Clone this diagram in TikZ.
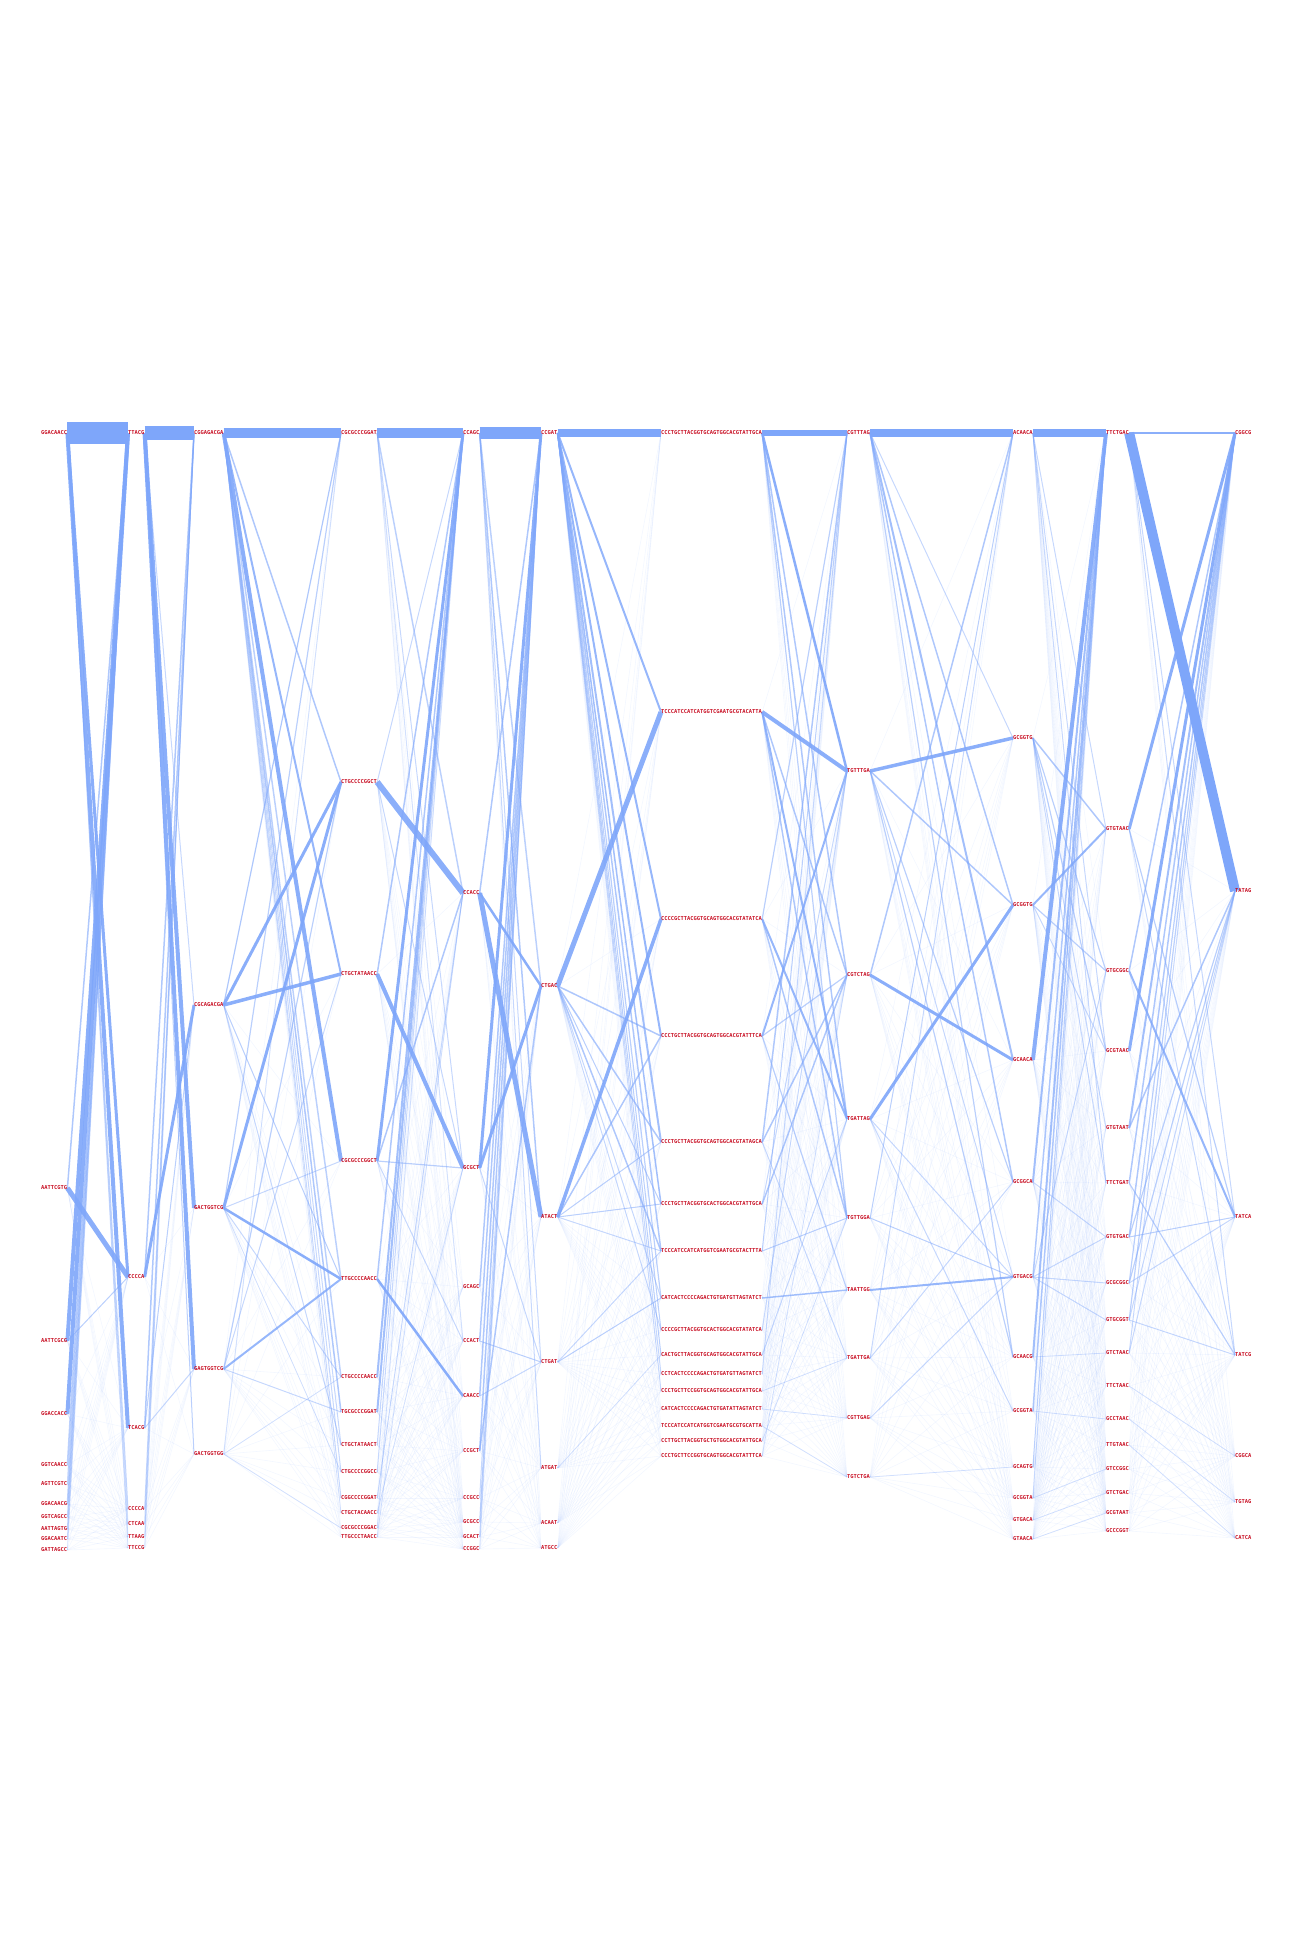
\documentclass[tikz,border=0pt]{standalone}
\usepackage{fontspec}
\usepackage{tikz}
\newfontfamily\seqfont{DejaVu Sans Mono}
\pgfdeclarelayer{background}
\pgfsetlayers{background,main}
\definecolor{seqred}{RGB}{200,16,36}
\definecolor{flowblue}{RGB}{126,166,250}
\begin{document}
\begin{tikzpicture}[x=1pt,y=-1pt,
    seq/.style={anchor=west,inner sep=0pt,text=seqred,font=\fontsize{5.4}{5.4}\selectfont\seqfont\bfseries},
    mesh/.style={draw=flowblue,line width=0.6pt,draw opacity=0.09},
    flow/.style={draw=flowblue}]
\useasboundingbox (0,0) rectangle (1296,1944);
% columns of labels
\foreach \n/\y/\t in {1/433/GGACAACC,2/1188/AATTCGTG,3/1341/AATTCGCG,4/1414/GGACCACC,5/1465/GGTCAACC,6/1484/AGTTCGTC,7/1504/GGACAACG,8/1517/GGTCAGCC,9/1529/AATTAGTG,10/1539/GGACAATC,11/1550/GATTAGCC}
    \node[seq] (a\n) at (41,\y) {\t};
\foreach \n/\y/\t in {1/433/TTACG,2/1277/CCCCA,3/1428/TCACG,4/1509/CCCCA,5/1524/CTCAA,6/1537/TTAAG,7/1548/TTCCG}
    \node[seq] (b\n) at (128,\y) {\t};
\foreach \n/\y/\t in {1/433/CGGAGACGA,2/1005/CGCAGACGA,3/1208/GACTGGTCG,4/1369/GAGTGGTCG,5/1454/GACTGGTGG}
    \node[seq] (c\n) at (194,\y) {\t};
\foreach \n/\y/\t in {1/433/CGCGCCCGGAT,2/782/CTGCCCCGGCT,3/974/CTGCTATAACC,4/1161/CGCGCCCGGCT,5/1279/TTGCCCCAACC,6/1377/CTGCCCCAACC,7/1412/TGCGCCCGGAT,8/1445/CTGCTATAACT,9/1472/CTGCCCCGGCC,10/1498/CGGCCCCGGAT,11/1513/CTGCTACAACC,12/1528/CGCGCCCGGAC,13/1537/TTGCCCTAACC}
    \node[seq] (d\n) at (341,\y) {\t};
\foreach \n/\y/\t in {1/433/CCAGC,2/893/CCACC,3/1168/GCGCT,4/1287/GCAGC,5/1341/CCACT,6/1396/CAACC,7/1451/CCGCT,8/1498/CCGCC,9/1522/GCGCC,10/1537/GCACT,11/1549/CCGGC}
    \node[seq] (e\n) at (463,\y) {\t};
\foreach \n/\y/\t in {1/433/CCGAT,2/986/CTGAC,3/1217/ATACT,4/1362/CTGAT,5/1468/ATGAT,6/1523/ACAAT,7/1548/ATGCC}
    \node[seq] (f\n) at (541,\y) {\t};
\foreach \n/\y/\t in {1/433/CCCTGCTTACGGTGCAGTGGCACGTATTGCA,2/712/TCCCATCCATCATGGTCGAATGCGTACATTA,3/919/CCCCGCTTACGGTGCAGTGGCACGTATATCA,4/1036/CCCTGCTTACGGTGCAGTGGCACGTATTTCA,5/1142/CCCTGCTTACGGTGCAGTGGCACGTATAGCA,6/1204/CCCTGCTTACGGTGCACTGGCACGTATTGCA,7/1251/TCCCATCCATCATGGTCGAATGCGTACTTTA,8/1298/CATCACTCCCCAGACTGTGATGTTAGTATCT,9/1330/CCCCGCTTACGGTGCACTGGCACGTATATCA,10/1355/CACTGCTTACGGTGCAGTGGCACGTATTGCA,11/1374/CCTCACTCCCCAGACTGTGATGTTAGTATCT,12/1391/CCCTGCTTCCGGTGCAGTGGCACGTATTGCA,13/1409/CATCACTCCCCAGACTGTGATATTAGTATCT,14/1426/TCCCATCCATCATGGTCGAATGCGTGCATTA,15/1441/CCTTGCTTACGGTGCTGTGGCACGTATTGCA,16/1456/CCCTGCTTCCGGTGCAGTGGCACGTATTTCA}
    \node[seq] (g\n) at (661,\y) {\t};
\foreach \n/\y/\t in {1/433/CGTTTAG,2/771/TGTTTGA,3/975/CGTCTAG,4/1119/TGATTAG,5/1218/TGTTGGA,6/1290/TAATTGG,7/1358/TGATTGA,8/1418/CGTTGAG,9/1477/TGTCTGA}
    \node[seq] (h\n) at (847,\y) {\t};
\foreach \n/\y/\t in {1/433/ACAACA,2/738/GCGGTG,3/905/GCGGTG,4/1060/GCAACA,5/1182/GCGGCA,6/1277/GTGACG,7/1357/GCAACG,8/1411/GCGGTA,9/1467/GCAGTG,10/1498/GCGGTA,11/1520/GTGACA,12/1539/GTAACA}
    \node[seq] (i\n) at (1013,\y) {\t};
\foreach \n/\y/\t in {1/433/TTCTGAC,2/829/GTGTAAC,3/971/GTGCGGC,4/1051/GCGTAAC,5/1128/GTGTAAT,6/1183/TTCTGAT,7/1237/GTGTGAC,8/1283/GCGCGGC,9/1320/GTGCGGT,10/1353/GTCTAAC,11/1386/TTCTAAC,12/1419/GCCTAAC,13/1445/TTGTAAC,14/1469/GTCCGGC,15/1493/GTCTGAC,16/1513/GCGTAAT,17/1531/GCCCGGT}
    \node[seq] (j\n) at (1106,\y) {\t};
\foreach \n/\y/\t in {1/433/CGGCG,2/891/TATAG,3/1217/TATCA,4/1355/TATCG,5/1456/CGGCA,6/1502/TGTAG,7/1538/CATCA}
    \node[seq] (k\n) at (1235,\y) {\t};

\begin{pgfonlayer}{background}
% faint links between neighbouring columns
\foreach \p/\q/\m/\r in {a/b/11/7,b/c/7/5,c/d/5/13,d/e/13/11,e/f/11/7,f/g/7/16,g/h/16/9,h/i/9/12,i/j/12/17,j/k/17/7}
    \foreach \u in {1,...,\m}
        \foreach \v in {1,...,\r}
            \draw[mesh] (\p\u.east) -- (\q\v.west);
% weighted links
\foreach \s/\t/\w/\o in {
    a1/b1/22/1,a1/b2/3/0.9,a1/b3/4/0.9,a2/b2/5/0.9,a2/b1/1.5/0.6,a3/b1/4/0.9,a4/b1/4/0.9,a3/b2/1/0.5,
    a5/b1/1.5/0.5,a6/b1/1.2/0.4,a7/b1/1.5/0.5,a8/b1/1/0.4,a9/b1/1/0.4,a10/b1/1/0.4,a11/b1/0.8/0.3,
    a1/b4/1/0.4,a1/b5/1/0.3,a1/b6/0.8/0.3,a1/b7/0.8/0.3,
    b1/c1/14/1,b1/c4/4/0.9,b1/c3/4/0.9,b2/c2/3/0.9,b2/c1/1.5/0.6,b3/c1/1.5/0.6,b3/c2/1/0.5,b3/c4/1/0.4,
    b4/c1/1/0.4,b5/c1/1/0.4,b6/c1/0.8/0.3,b7/c1/0.8/0.3,b1/c2/1/0.4,b1/c5/1/0.5,
    c1/d1/10/1,c1/d4/4/0.9,c1/d3/2/0.8,c1/d2/1.5/0.6,c1/d5/1.5/0.5,c1/d6/1.5/0.5,c1/d7/1.5/0.6,c1/d8/1/0.4,
    c1/d9/1/0.4,c1/d10/1/0.4,c1/d11/0.8/0.3,c2/d2/3/0.9,c2/d3/3.5/0.9,c2/d5/1/0.5,c2/d8/1/0.4,c2/d1/1.2/0.6,
    c3/d2/3/0.9,c3/d5/2.5/0.9,c3/d1/1.2/0.5,c3/d4/1/0.4,c3/d6/1/0.4,c3/d9/0.8/0.3,
    c4/d5/2/0.8,c4/d2/1.2/0.5,c4/d3/1/0.4,c4/d7/1/0.4,c5/d1/1/0.3,c5/d6/0.8/0.3,c5/d12/0.8/0.3,
    d1/e1/10/1,d2/e2/6/0.9,d3/e3/4/0.9,d4/e1/3/0.9,d4/e2/1.5/0.6,d5/e6/2.5/0.9,d5/e1/1.5/0.6,d6/e1/2/0.7,
    d7/e1/2/0.7,d3/e1/1.5/0.6,d2/e1/1/0.4,d2/e3/1/0.4,d1/e2/1.5/0.5,d1/e3/1/0.4,d1/e5/1/0.3,d8/e1/1/0.4,
    d9/e1/1/0.4,d10/e2/1/0.4,d11/e3/0.8/0.3,d12/e1/0.8/0.3,d13/e2/0.8/0.3,d4/e3/1.2/0.5,d4/e5/1/0.4,
    e1/f1/12/1,e2/f3/5/0.9,e2/f2/2.5/0.9,e3/f1/3/0.9,e3/f2/3/0.9,e2/f1/1.5/0.6,e4/f1/1.5/0.6,e5/f1/1.5/0.6,
    e6/f1/1.5/0.6,e7/f1/1.5/0.6,e8/f1/1/0.4,e9/f1/1/0.5,e10/f1/1/0.4,e11/f1/0.8/0.3,e5/f4/1/0.5,e7/f2/1.5/0.6,
    e1/f2/1.5/0.5,e1/f3/1.5/0.6,e1/f4/1/0.4,e1/f5/1/0.4,e6/f4/1/0.4,e3/f4/1/0.4,
    f1/g1/8/1,f2/g2/5/0.9,f3/g3/3.5/0.9,f1/g2/2/0.8,f1/g3/2/0.8,f1/g4/2/0.8,f1/g5/2/0.7,f1/g6/1.5/0.7,
    f1/g7/1.5/0.6,f1/g8/1.2/0.5,f1/g9/1/0.5,f1/g10/1/0.5,f1/g11/1/0.4,f1/g12/1/0.4,
    f2/g4/1.5/0.6,f2/g5/1.5/0.6,f2/g6/1/0.5,f2/g7/1.5/0.6,f2/g8/1/0.4,f2/g9/1/0.4,
    f3/g4/1.5/0.6,f3/g5/1/0.5,f3/g6/1/0.5,f3/g7/1/0.4,f4/g8/1/0.5,f4/g7/1/0.4,f5/g10/0.8/0.3,
    g1/h1/6/1,g2/h2/4/0.9,g1/h2/2.5/0.9,g1/h3/1.5/0.6,g1/h4/1.5/0.6,g1/h5/1.2/0.5,g2/h4/2/0.8,g2/h5/1.5/0.6,
    g2/h3/1.5/0.6,g3/h4/2/0.8,g3/h5/1.5/0.6,g3/h1/1.2/0.5,g4/h2/2/0.8,g4/h6/1.2/0.5,g4/h3/1.2/0.5,
    g5/h3/1.5/0.6,g5/h1/1.5/0.6,g5/h7/1/0.4,g6/h3/1.5/0.6,g6/h2/1/0.4,g7/h5/1/0.5,g7/h1/1/0.5,g8/h6/1.5/0.7,
    g9/h2/1/0.4,g10/h4/1/0.4,g11/h1/1/0.4,g12/h7/0.8/0.3,g13/h8/0.8/0.3,g14/h9/0.8/0.3,g15/h5/0.8/0.3,g16/h3/0.8/0.3,
    h1/i1/8/1,h2/i2/3.5/0.9,h2/i3/1.5/0.6,h2/i5/1.2/0.5,h2/i6/1/0.4,h2/i7/1.2/0.5,h3/i4/3/0.9,h3/i1/1.5/0.6,
    h4/i3/3/0.9,h4/i6/1/0.4,h4/i8/1/0.4,h5/i6/1/0.5,h6/i6/2/0.8,h1/i4/2/0.7,h1/i3/1.5/0.6,h1/i5/1.5/0.6,
    h1/i7/1.2/0.5,h1/i2/1/0.4,h7/i5/1/0.4,h8/i6/1/0.4,h9/i9/0.8/0.3,h5/i1/1/0.5,h7/i1/1/0.4,
    i1/j1/8/1,i4/j1/4/0.9,i3/j2/2/0.8,i2/j2/1.5/0.6,i2/j3/1.2/0.5,i2/j4/1.2/0.5,i2/j5/1/0.4,i2/j6/1/0.4,
    i3/j3/1.2/0.5,i3/j4/1/0.4,i5/j1/2/0.7,i6/j1/1.5/0.6,i7/j1/2/0.7,i8/j1/1.5/0.6,i9/j1/1/0.5,i10/j1/1/0.4,
    i6/j3/1/0.4,i6/j7/1/0.4,i6/j8/1/0.4,i6/j9/1/0.4,i1/j2/1/0.4,i1/j4/1/0.4,i1/j6/1/0.4,i5/j7/1/0.4,
    i7/j10/0.8/0.3,i11/j15/0.8/0.3,i12/j16/0.8/0.3,i8/j12/0.8/0.3,i10/j14/0.8/0.3,
    j1/k1/2/0.9,j1/k2/10/1,j2/k1/3/0.9,j4/k1/3/0.9,j5/k1/2/0.7,j6/k1/1.5/0.6,j7/k1/1.5/0.6,j3/k1/1.5/0.6,
    j8/k1/1.2/0.5,j9/k1/1.2/0.5,j10/k1/1/0.4,j3/k3/2/0.8,j2/k3/1.2/0.5,j2/k4/1/0.4,j5/k2/1.5/0.6,
    j7/k2/1.2/0.5,j8/k2/1.2/0.5,j9/k2/1/0.4,j10/k2/1/0.4,j6/k4/1.2/0.5,j7/k3/1/0.5,j8/k3/1/0.4,j9/k4/1/0.4,
    j1/k3/1/0.4,j1/k4/1/0.4,j11/k5/0.8/0.3,j12/k6/0.8/0.3,j13/k7/0.8/0.3}
    \draw[flow,line width=\w pt,draw opacity=\o] (\s.east) -- (\t.west);
\end{pgfonlayer}
\end{tikzpicture}
\end{document}
